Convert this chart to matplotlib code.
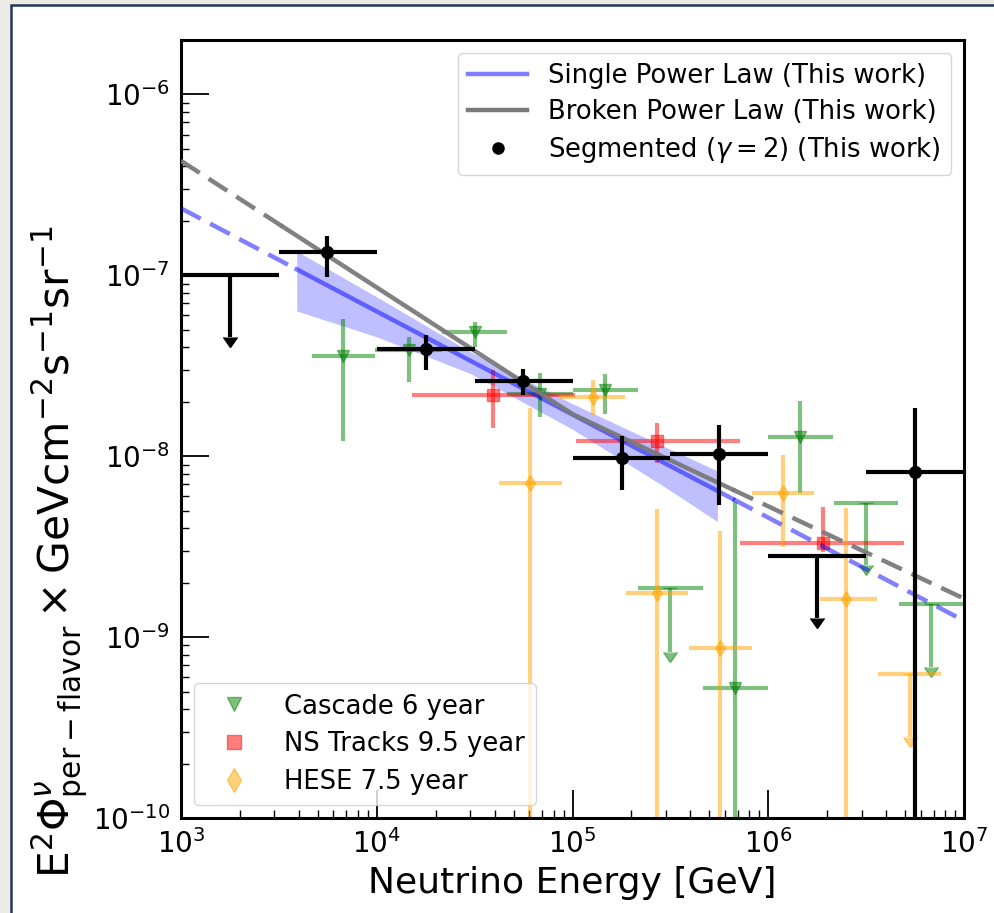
import numpy as np
import matplotlib
matplotlib.use('Agg')
import matplotlib.pyplot as plt
from matplotlib.patches import Rectangle
from matplotlib.lines import Line2D
from matplotlib.ticker import LogLocator

# ---------------- data ----------------
# Segmented (gamma = 2) fit, this work
seg_E = [5.6e3, 1.78e4, 5.6e4, 1.78e5, 5.6e5, 5.6e6]
seg_E_lo = [3.16e3, 1.0e4, 3.16e4, 1.0e5, 3.16e5, 3.16e6]
seg_E_hi = [1.0e4, 3.16e4, 1.0e5, 3.16e5, 1.0e6, 1.0e7]
seg_F = [1.34e-7, 3.9e-8, 2.6e-8, 9.75e-9, 1.03e-8, 8.2e-9]
seg_F_lo = [9.75e-8, 2.99e-8, 2.17e-8, 6.5e-9, 5.4e-9, 1e-12]
seg_F_hi = [1.66e-7, 4.67e-8, 3.04e-8, 1.29e-8, 1.48e-8, 1.84e-8]
# segmented upper limits
segul_E = [1.78e3, 1.78e6]
segul_E_lo = [1.0e3, 1.0e6]
segul_E_hi = [3.16e3, 3.16e6]
segul_F = [1.0e-7, 2.8e-9]
segul_F_tip = [4.55e-8, 1.27e-9]

# Cascade 6 year
cas_E = [6.7e3, 1.46e4, 3.18e4, 6.8e4, 1.47e5, 6.76e5, 1.45e6]
cas_E_lo = [4.67e3, 9.8e3, 2.15e4, 4.62e4, 1.0e5, 4.64e5, 1.0e6]
cas_E_hi = [9.8e3, 2.15e4, 4.62e4, 1.0e5, 2.15e5, 1.0e6, 2.15e6]
cas_F = [3.6e-8, 3.85e-8, 4.84e-8, 2.2e-8, 2.32e-8, 5.2e-10, 1.27e-8]
cas_F_lo = [1.21e-8, 2.56e-8, 4.0e-8, 1.64e-8, 1.71e-8, 1e-12, 6.25e-9]
cas_F_hi = [5.71e-8, 4.54e-8, 5.5e-8, 2.88e-8, 2.84e-8, 5.57e-9, 2.01e-8]
casul_E = [3.15e5, 3.16e6, 6.76e6]
casul_E_lo = [2.16e5, 2.17e6, 4.66e6]
casul_E_hi = [4.65e5, 4.6e6, 9.9e6]
casul_F = [1.87e-9, 5.5e-9, 1.52e-9]
casul_F_tip = [8.3e-10, 2.5e-9, 6.8e-10]

# NS Tracks 9.5 year
trk_E = [3.93e4, 2.7e5, 1.9e6]
trk_E_lo = [1.51e4, 1.04e5, 7.18e5]
trk_E_hi = [1.03e5, 7.18e5, 4.94e6]
trk_F = [2.17e-8, 1.21e-8, 3.3e-9]
trk_F_lo = [1.43e-8, 9.14e-9, 2.95e-9]
trk_F_hi = [2.99e-8, 1.52e-8, 5.22e-9]

# HESE 7.5 year
hese_E = [6.07e4, 1.27e5, 2.7e5, 5.66e5, 1.19e6, 2.5e6]
hese_E_lo = [4.22e4, 8.63e4, 1.87e5, 3.94e5, 8.26e5, 1.84e6]
hese_E_hi = [8.83e4, 1.85e5, 3.89e5, 8.26e5, 1.71e6, 3.6e6]
hese_F = [7.1e-9, 2.12e-8, 1.75e-9, 8.7e-10, 6.25e-9, 1.62e-9]
hese_F_lo = [1e-12, 1.69e-8, 1e-12, 1e-12, 3.14e-9, 1e-12]
hese_F_hi = [1.84e-8, 2.63e-8, 5.09e-9, 3.85e-9, 1.01e-8, 5.16e-9]
heseul_E = [5.3e6]
heseul_E_lo = [3.63e6]
heseul_E_hi = [7.64e6]
heseul_F = [6.25e-10]
heseul_F_tip = [2.8e-10]

# Single power law fit (normalisation at 100 TeV) and its band
sp_norm = 1.70e-8
sp_gamma = 2.57
sp_range = [3.9e3, 6.6e5]
band_E = [3.9e3, 1.0e4, 3.0e4, 1.0e5, 3.0e5, 5.5e5]
band_hi = [1.36e-7, 7.6e-8, 3.78e-8, 1.95e-8, 1.12e-8, 8.3e-9]
band_lo = [6.35e-8, 4.57e-8, 2.87e-8, 1.41e-8, 6.7e-9, 4.35e-9]

# Broken power law fit
bp_norm = 1.71e-8
bp_Ebreak = 1.0e5
bp_gamma1 = 2.70
bp_gamma2 = 2.51
bp_range = [3.3e3, 6.6e5]

# axis ticks
x_ticks = [1e3, 1e4, 1e5, 1e6, 1e7]
y_ticks = [1e-10, 1e-9, 1e-8, 1e-7, 1e-6]

# ---------------- figure ----------------
fig = plt.figure(figsize=(9.94, 9.13), dpi=100, facecolor='#ecebe6')
fig.patches.append(Rectangle((11 / 994, -0.05), 1.2, 1.05 - 5.5 / 913,
                             transform=fig.transFigure, facecolor='white',
                             edgecolor='#22375a', linewidth=1.8, zorder=-5))
ax = fig.add_axes([181 / 994, 1 - 818 / 913, 783 / 994, 778 / 913])
ax.set_xscale('log')
ax.set_yscale('log')


def errs(v, lo, hi):
    v = np.asarray(v); lo = np.asarray(lo); hi = np.asarray(hi)
    return np.vstack([v - lo, hi - v])


def model_sp(E):
    return sp_norm * (E / 1e5) ** (2 - sp_gamma)


def model_bp(E):
    g = np.where(E < bp_Ebreak, bp_gamma1, bp_gamma2)
    return bp_norm * (E / bp_Ebreak) ** (2 - g)


# band
ax.fill_between(band_E, band_lo, band_hi, color='blue', alpha=0.25, lw=0, zorder=1)

dash = (0, (5, 2.4))
for model, rng, col, al, zo in [(model_sp, sp_range, 'blue', 0.5, 3),
                                (model_bp, bp_range, '#7a7a7a', 0.95, 3.5)]:
    Ea = np.logspace(3, np.log10(rng[0]), 50)
    Eb = np.logspace(np.log10(rng[0]), np.log10(rng[1]), 200)
    Ec = np.logspace(np.log10(rng[1]), 7, 50)
    ax.plot(Ea, model(Ea), color=col, alpha=al, lw=3.2, ls=dash, zorder=zo)
    ax.plot(Eb, model(Eb), color=col, alpha=al, lw=3.2, zorder=zo)
    ax.plot(Ec, model(Ec), color=col, alpha=al, lw=3.2, ls=dash, zorder=zo)

# colored data sets
sets = [
    ('green', 'v', 9, cas_E, cas_E_lo, cas_E_hi, cas_F, cas_F_lo, cas_F_hi,
     (casul_E, casul_E_lo, casul_E_hi, casul_F, casul_F_tip)),
    ('red', 's', 8, trk_E, trk_E_lo, trk_E_hi, trk_F, trk_F_lo, trk_F_hi, None),
    ('orange', 'd', 8, hese_E, hese_E_lo, hese_E_hi, hese_F, hese_F_lo, hese_F_hi,
     (heseul_E, heseul_E_lo, heseul_E_hi, heseul_F, heseul_F_tip)),
]
for col, mk, ms, E, Elo, Ehi, F, Flo, Fhi, ul in sets:
    ax.errorbar(E, F, xerr=errs(E, Elo, Ehi), yerr=errs(F, Flo, Fhi), fmt=mk,
                color=col, alpha=0.5, ms=ms, elinewidth=3, capsize=0, zorder=2)
    if ul is not None:
        uE, uElo, uEhi, uF, utip = ul
        ax.errorbar(uE, uF, xerr=errs(uE, uElo, uEhi), fmt='none', color=col,
                    alpha=0.5, elinewidth=3, capsize=0, zorder=2)
        ax.errorbar(uE, uF, yerr=np.asarray(uF) - np.asarray(utip), uplims=True,
                    fmt='none', color=col, alpha=0.5, elinewidth=3, capsize=5, zorder=2)

# segmented (black)
ax.errorbar(seg_E, seg_F, xerr=errs(seg_E, seg_E_lo, seg_E_hi),
            yerr=errs(seg_F, seg_F_lo, seg_F_hi), fmt='o', color='black',
            ms=8.5, elinewidth=3, capsize=0, zorder=5)
ax.errorbar(segul_E, segul_F, xerr=errs(segul_E, segul_E_lo, segul_E_hi), fmt='none',
            color='black', elinewidth=3, capsize=0, zorder=5)
ax.errorbar(segul_E, segul_F, yerr=np.asarray(segul_F) - np.asarray(segul_F_tip),
            uplims=True, fmt='none', color='black', elinewidth=3, capsize=5, zorder=5)

ax.set_xlim(1e3, 1e7)
ax.set_ylim(1e-10, 2e-6)
ax.set_xticks(x_ticks)
ax.set_yticks(y_ticks)
ax.xaxis.set_minor_locator(LogLocator(base=10, subs=np.arange(2, 10), numticks=20))
ax.yaxis.set_minor_locator(LogLocator(base=10, subs=np.arange(2, 10), numticks=20))
ax.tick_params(which='minor', labelleft=False, labelbottom=False)

for s in ax.spines.values():
    s.set_linewidth(2.2)
ax.tick_params(which='major', direction='in', length=20, width=1.3, labelsize=20, pad=8)
ax.tick_params(which='minor', direction='in', length=6, width=1.0)

ax.set_xlabel('Neutrino Energy [GeV]', fontsize=26, labelpad=5)
ax.set_ylabel(r'E$^2\Phi^{\nu}_{\rm per-flavor}\times$GeVcm$^{-2}$s$^{-1}$sr$^{-1}$',
              fontsize=30.5)
ax.yaxis.set_label_coords(-0.117, 0.342)

h1 = [Line2D([], [], color='blue', alpha=0.5, lw=3.2),
      Line2D([], [], color='#7a7a7a', lw=3.2),
      Line2D([], [], color='black', marker='o', ls='none', ms=8)]
l1 = ['Single Power Law (This work)', 'Broken Power Law (This work)',
      r'Segmented ($\gamma=2$) (This work)']
leg1 = ax.legend(h1, l1, loc='upper right', fontsize=18.6, handlelength=2.3,
                 labelspacing=0.38)
ax.add_artist(leg1)

h2 = [Line2D([], [], color='green', alpha=0.5, marker='v', ls='none', ms=10),
      Line2D([], [], color='red', alpha=0.5, marker='s', ls='none', ms=10),
      Line2D([], [], color='orange', alpha=0.5, marker='d', ls='none', ms=12)]
l2 = ['Cascade 6 year', 'NS Tracks 9.5 year', 'HESE 7.5 year']
ax.legend(h2, l2, loc='lower left', fontsize=18.6, handlelength=2.3,
          labelspacing=0.45)

fig.savefig('out.png', dpi=100, facecolor=fig.get_facecolor())
